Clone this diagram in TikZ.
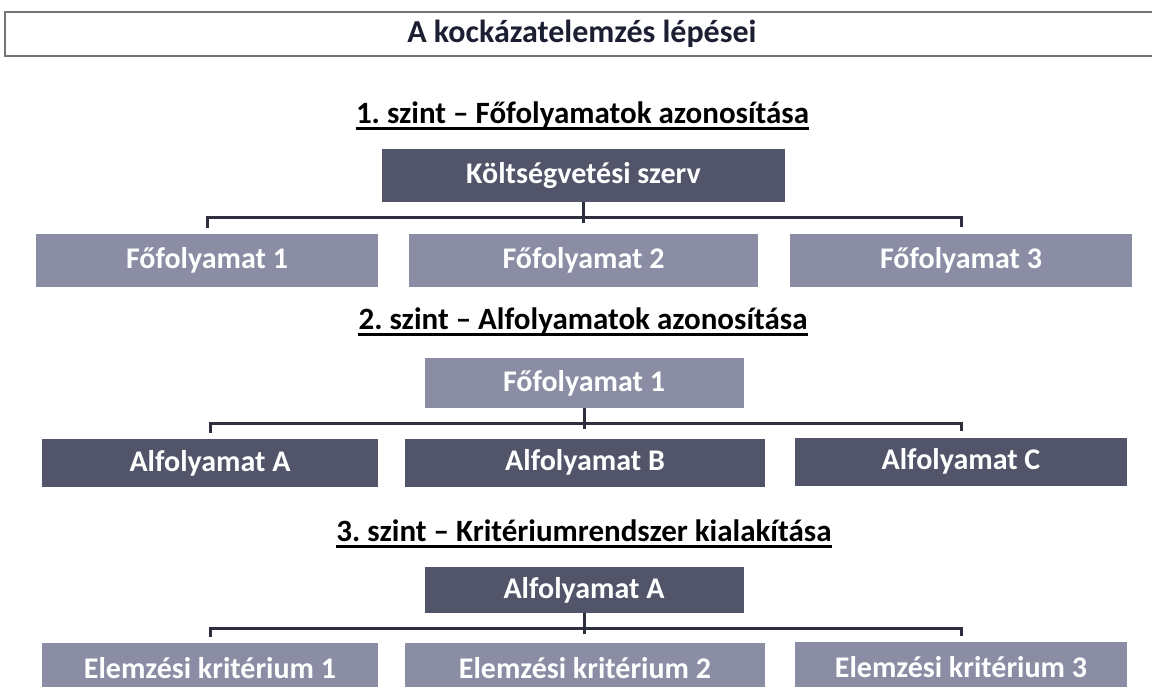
\documentclass[tikz,border=0pt]{standalone}
\usepackage{fontspec}
\setmainfont{Carlito}
\definecolor{darkbox}{RGB}{82,84,106}
\definecolor{lightbox}{RGB}{138,141,164}
\definecolor{connc}{RGB}{45,47,62}
\definecolor{titlec}{RGB}{28,30,50}
\definecolor{framec}{RGB}{115,115,120}
\begin{document}
\frenchspacing
\begin{tikzpicture}[x=1pt,y=-1pt,
  box/.style={rectangle, inner sep=0pt, text=white, font=\bfseries\fontsize{30}{34}\selectfont},
  dbox/.style={box, fill=darkbox},
  lbox/.style={box, fill=lightbox},
  heading/.style={inner sep=0pt, text=black, font=\bfseries\fontsize{31}{35}\selectfont},
  ul/.style={line width=2.2pt, black},
  connline/.style={line width=3pt, connc}
]
\useasboundingbox (0,0) rectangle (1152,686);
\fill[white] (0,0) rectangle (1152,686);

% title
\node[draw=framec, line width=2pt, minimum width=1170pt, minimum height=44pt, inner sep=0pt,
      text=titlec, font=\bfseries\fontsize{32}{36}\selectfont] (title) at (590,34) {\hspace*{-16pt}A kockázatelemzés lépései};

% level 1
\node[heading, anchor=base] (h1) at (582.5,123) {1. szint – Főfolyamatok azonosítása};
\draw[ul] ([yshift=-5.5pt]h1.base west) -- ([yshift=-5.5pt]h1.base east);
\node[dbox, minimum width=403pt, minimum height=53pt] (K) at (583.5,175.5) {Költségvetési szerv};
\node[lbox, minimum width=342pt, minimum height=53pt] (F1) at (207,260.5) {Főfolyamat 1};
\node[lbox, minimum width=349pt, minimum height=53pt] (F2) at (583.5,260.5) {Főfolyamat 2};
\node[lbox, minimum width=342pt, minimum height=53pt] (F3) at (961,260) {Főfolyamat 3};
\coordinate (bar1) at (583.5,217);
\draw[connline] ([yshift=6pt]F1.north) |- (bar1) -| ([yshift=6pt]F3.north);
\draw[connline] (K.south) -- ([yshift=-6pt]bar1);

% level 2
\node[heading, anchor=base] (h2) at (583,329) {2. szint – Alfolyamatok azonosítása};
\draw[ul] ([yshift=-5.5pt]h2.base west) -- ([yshift=-5.5pt]h2.base east);
\node[lbox, minimum width=319pt, minimum height=50pt] (P) at (584,383) {Főfolyamat 1};
\node[dbox, minimum width=336pt, minimum height=48pt] (A) at (210,463) {Alfolyamat A};
\node[dbox, minimum width=360pt, minimum height=48pt] (B) at (585,462.5) {Alfolyamat B};
\node[dbox, minimum width=332pt, minimum height=48pt] (C) at (961,461.5) {Alfolyamat C};
\coordinate (bar2) at (584,423);
\draw[connline] ([yshift=6pt]A.north) |- (bar2) -| ([yshift=6pt]C.north);
\draw[connline] (P.south) -- ([yshift=-6pt]bar2);

% level 3
\node[heading, anchor=base] (h3) at (584,541) {3. szint – Kritériumrendszer kialakítása};
\draw[ul] ([yshift=-5.5pt]h3.base west) -- ([yshift=-5.5pt]h3.base east);
\node[dbox, minimum width=319pt, minimum height=46pt] (Q) at (584,590) {Alfolyamat A};
\node[lbox, minimum width=336pt, minimum height=50pt] (E1) at (210,668) {Elemzési kritérium 1};
\node[lbox, minimum width=360pt, minimum height=50pt] (E2) at (585,668) {Elemzési kritérium 2};
\node[lbox, minimum width=332pt, minimum height=50pt] (E3) at (961,667) {Elemzési kritérium 3};
\coordinate (bar3) at (584,628);
\draw[connline] ([yshift=6pt]E1.north) |- (bar3) -| ([yshift=6pt]E3.north);
\draw[connline] (Q.south) -- ([yshift=-6pt]bar3);
\end{tikzpicture}
\end{document}
